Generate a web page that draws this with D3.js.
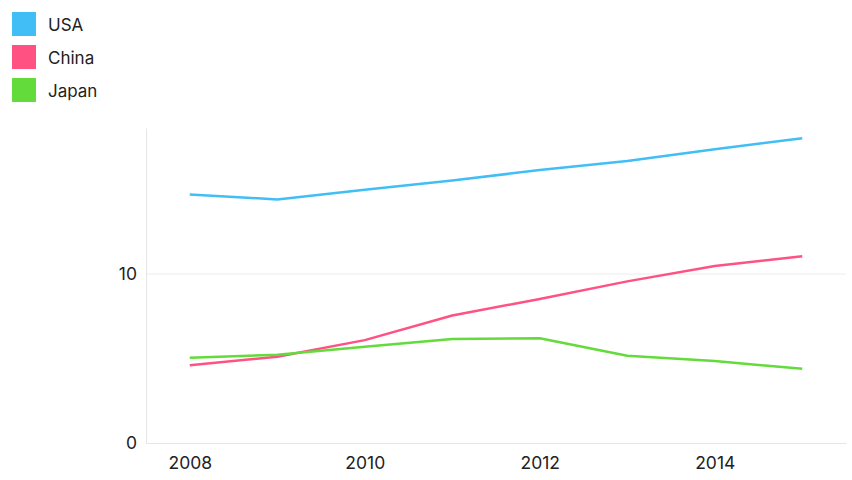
<!DOCTYPE html>
<html><head><meta charset="utf-8">
<script src="https://cdn.jsdelivr.net/npm/d3@7"></script>
<style>body{margin:0;background:#fff;font-family:Inter,"Noto Sans",sans-serif;}</style>
</head><body><svg id="c" width="852" height="480"></svg>
<script>
const years = [2008, 2009, 2010, 2011, 2012, 2013, 2014, 2015];
const usa = [14.72, 14.42, 15.0, 15.54, 16.16, 16.69, 17.39, 18.04];
const china = [4.6, 5.11, 6.09, 7.55, 8.53, 9.57, 10.48, 11.06];
const japan = [5.04, 5.23, 5.7, 6.16, 6.2, 5.16, 4.85, 4.39];
const seriesNames = ["USA", "China", "Japan"];
const seriesColors = ["#41bef5", "#ff5283", "#63db3b"];
const yTicks = [0, 10];
const xTicks = [2008, 2010, 2012, 2014];
const FONT = "Inter, 'Noto Sans', sans-serif";

const svg = d3.select("#c");
const x = d3.scaleLinear().domain([2007.5, 2015.5]).range([146, 846]);
const y = d3.scaleLinear().domain([0, 18.65]).range([443, 128]);

svg.append("g").selectAll("line").data(yTicks.filter(d => d > 0)).join("line")
  .attr("x1", 146).attr("x2", 846).attr("y1", d => y(d)).attr("y2", d => y(d))
  .attr("stroke", "#ececec").attr("stroke-width", 1);

const yAxis = svg.append("g").attr("transform", "translate(146,0)")
  .call(d3.axisLeft(y).tickValues(yTicks).tickSize(0).tickPadding(9));
yAxis.select(".domain").attr("stroke", "#e6e6e6");
const xAxis = svg.append("g").attr("transform", "translate(0,443)")
  .call(d3.axisBottom(x).tickValues(xTicks).tickFormat(d3.format("d")).tickSize(0).tickPadding(14));
xAxis.select(".domain").attr("stroke", "#e6e6e6");
svg.selectAll(".tick text").attr("font-size", 17.5).attr("fill", "#222").attr("font-family", FONT);

const data = [usa, china, japan];
const line = d3.line().x((d, i) => x(years[i])).y(d => y(d));
svg.append("g").selectAll("path").data(data).join("path")
  .attr("d", line).attr("fill", "none").attr("stroke-linejoin", "round")
  .attr("stroke", (d, i) => seriesColors[i]).attr("stroke-width", 2.5);

const lg = svg.append("g").selectAll("g").data(seriesNames).join("g")
  .attr("transform", (d, i) => `translate(12,${12 + i * 33})`);
lg.append("rect").attr("width", 24).attr("height", 24).attr("fill", (d, i) => seriesColors[i]);
lg.append("text").attr("x", 36).attr("y", 13).attr("dy", "0.35em")
  .attr("font-size", 17).attr("fill", "#222").attr("font-family", FONT)
  .text(d => d);
</script></body></html>
